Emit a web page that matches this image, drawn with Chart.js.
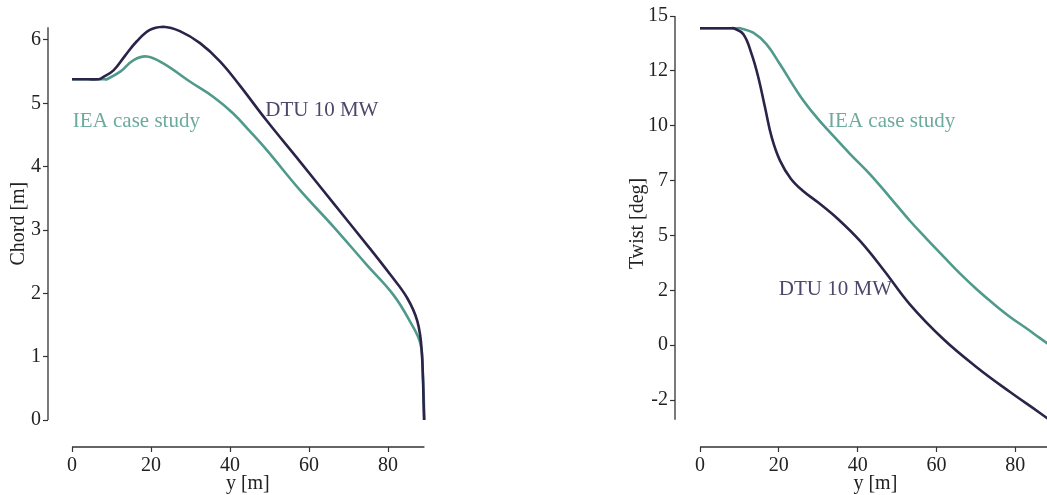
<!DOCTYPE html>
<html>
<head>
<meta charset="utf-8">
<script src="https://cdn.jsdelivr.net/npm/chart.js@4/dist/chart.umd.min.js"></script>
<style>
	html, body { margin: 0; padding: 0; background: #fff; overflow: hidden; }
	body { width: 1047px; height: 495px; position: relative; }
	.panel { position: absolute; top: 0; height: 495px; }
	#chord-box { left: 0; width: 440px; }
	#twist-box { left: 600px; width: 460px; }
</style>
</head>
<body>
<div class="panel" id="chord-box"><canvas id="chord"></canvas></div>
<div class="panel" id="twist-box"><canvas id="twist"></canvas></div>
<script>
// Blade span positions [m] and values
var chordDtuY = [0, 4, 6.8, 7.5, 10.5, 13.4, 16.4, 19.7, 23.1, 27.3, 32.4, 37.5, 42.5, 49.1, 57.7, 66.2, 74.6, 80.5, 84.8, 87.4, 88.5, 89.1];
var chordDtu = [5.38, 5.38, 5.38, 5.4, 5.52, 5.75, 5.98, 6.16, 6.21, 6.14, 5.95, 5.66, 5.28, 4.74, 4.08, 3.42, 2.77, 2.3, 1.93, 1.56, 1.1, 0];

var chordIeaY = [0, 4, 8.2, 8.8, 12.2, 15.5, 18.9, 23.1, 29.9, 35.8, 40.8, 45, 49.3, 57.7, 66.2, 74.6, 81.3, 85.6, 88.2, 88.8, 89.2];
var chordIea = [5.38, 5.38, 5.38, 5.38, 5.5, 5.68, 5.74, 5.63, 5.34, 5.1, 4.84, 4.56, 4.26, 3.63, 3.05, 2.45, 1.98, 1.55, 1.2, 0.7, 0];

var twistDtuY = [0, 5, 7.8, 8.5, 11, 13.1, 14.8, 16.5, 18.2, 20.3, 23, 26, 30, 35, 40.6, 46.5, 53.3, 61.8, 70.2, 78.6, 86, 89.2];
var twistDtu = [14.44, 14.44, 14.44, 14.44, 14.17, 13.26, 12.2, 10.83, 9.47, 8.41, 7.6, 7.05, 6.5, 5.75, 4.75, 3.45, 1.85, 0.27, -1.0, -2.12, -3.05, -3.47];

var twistIeaY = [0, 5, 9.4, 10.2, 13.5, 16.9, 20.3, 25.4, 29.6, 33, 38.1, 43.1, 48.2, 53.3, 57.5, 62, 66, 70.2, 74.4, 78.6, 82.9, 86, 89.2];
var twistIea = [14.44, 14.44, 14.44, 14.44, 14.24, 13.71, 12.8, 11.36, 10.38, 9.7, 8.71, 7.8, 6.74, 5.66, 4.85, 4.0, 3.26, 2.55, 1.9, 1.3, 0.76, 0.36, -0.05];

// Tick values and labels
var spanTicks = [0, 20, 40, 60, 80];
var chordTicks = [0, 1, 2, 3, 4, 5, 6];
var twistTicks = [-2.5, 0, 2.5, 5, 7.5, 10, 12.5, 15];
var twistTickLabels = ['-2', '0', '2', '5', '7', '10', '12', '15'];

var dtuColor = '#2b2348';
var ieaColor = '#4f9a8b';
var dtuText = '#4d4769';
var ieaText = '#6caa9d';
var axisColor = '#333333';
var textColor = '#222222';
var serif = 'Liberation Serif';

var toPoints = function (xs, ys) {
	return xs.map(function (x, i) { return { x: x, y: ys[i] }; });
};

var lineSet = function (label, xs, ys, color) {
	return {
		label: label,
		data: toPoints(xs, ys),
		borderColor: color,
		backgroundColor: color,
		borderWidth: 2.6,
		pointRadius: 0,
		showLine: true,
		tension: 0.4,
		clip: false,
	};
};

// Offset spines over a limited data range, plus axis titles centred on that range
var spinePlugin = {
	id: 'spines',
	afterDraw: function (chart, args, opts) {
		var ctx = chart.ctx;
		var xs = chart.scales.x;
		var ys = chart.scales.y;
		var area = chart.chartArea;
		ctx.save();
		ctx.strokeStyle = axisColor;
		ctx.lineWidth = 1.3;
		ctx.beginPath();
		ctx.moveTo(xs.getPixelForValue(opts.xFrom), area.bottom);
		ctx.lineTo(xs.getPixelForValue(opts.xTo), area.bottom);
		ctx.moveTo(area.left, ys.getPixelForValue(opts.yFrom));
		ctx.lineTo(area.left, ys.getPixelForValue(opts.yTo));
		ctx.stroke();

		ctx.fillStyle = textColor;
		ctx.font = '20px "' + serif + '"';
		ctx.textAlign = 'center';
		ctx.textBaseline = 'middle';
		ctx.fillText(opts.xTitle, xs.getPixelForValue(opts.xMid), chart.height - 11);
		ctx.translate(opts.yTitleX, ys.getPixelForValue(opts.yMid));
		ctx.rotate(-Math.PI / 2);
		ctx.fillText(opts.yTitle, 0, 0);
		ctx.restore();
	},
};

// Curve names written next to the lines
var labelPlugin = {
	id: 'curveLabels',
	afterDatasetsDraw: function (chart, args, opts) {
		var ctx = chart.ctx;
		ctx.save();
		ctx.font = '21px "' + serif + '"';
		ctx.textAlign = 'left';
		ctx.textBaseline = 'middle';
		opts.items.forEach(function (it) {
			ctx.fillStyle = it.color;
			ctx.fillText(it.text, chart.scales.x.getPixelForValue(it.x), chart.scales.y.getPixelForValue(it.y));
		});
		ctx.restore();
	},
};

var axisOpts = function (cfg) {
	return {
		type: 'linear',
		min: cfg.min,
		max: cfg.max,
		border: { display: false },
		grid: { drawOnChartArea: false, drawTicks: true, tickLength: 5, tickWidth: 1.2, tickColor: axisColor },
		afterBuildTicks: function (scale) {
			scale.ticks = cfg.ticks.map(function (v) { return { value: v }; });
		},
		afterFit: cfg.fit,
		ticks: {
			padding: 2,
			color: textColor,
			font: { family: serif, size: 20 },
			callback: cfg.labels ? function (v) { return cfg.labels[cfg.ticks.indexOf(v)]; } : function (v) { return String(v); },
		},
		title: { display: false },
	};
};

var makeChart = function (id, datasets, xCfg, yCfg, pad, spines, labels) {
	var canvas = document.getElementById(id);
	new Chart(canvas.getContext('2d'), {
		type: 'scatter',
		data: { datasets: datasets },
		options: {
			responsive: true,
			maintainAspectRatio: false,
			animation: false,
			events: [],
			layout: { padding: pad },
			plugins: {
				legend: { display: false },
				tooltip: { enabled: false },
				spines: spines,
				curveLabels: { items: labels },
			},
			scales: {
				x: axisOpts(xCfg),
				y: axisOpts(yCfg),
			},
		},
		plugins: [spinePlugin, labelPlugin],
	});
};

// Chord distribution
makeChart('chord',
	[lineSet('DTU 10 MW', chordDtuY, chordDtu, dtuColor), lineSet('IEA case study', chordIeaY, chordIea, ieaColor)],
	{ min: -6.08, max: 90.1, ticks: spanTicks, fit: function (s) { s.height = 48; } },
	{ min: -0.426, max: 6.205, ticks: chordTicks, fit: function (s) { s.width = 48; } },
	{ top: 27, right: 12, left: 0, bottom: 0 },
	{ xFrom: 0, xTo: 89.2, yFrom: 0, yTo: 6.2, xTitle: 'y [m]', xMid: 44.5, yTitle: 'Chord [m]', yMid: 3.1, yTitleX: 19 },
	[{ text: 'DTU 10 MW', x: 48.9, y: 4.88, color: dtuText }, { text: 'IEA case study', x: 0.2, y: 4.72, color: ieaText }]
);

// Twist distribution
makeChart('twist',
	[lineSet('DTU 10 MW', twistDtuY, twistDtu, dtuColor), lineSet('IEA case study', twistIeaY, twistIea, ieaColor)],
	{ min: -6.35, max: 91.1, ticks: spanTicks, fit: function (s) { s.height = 48; } },
	{ min: -4.636, max: 15, ticks: twistTicks, labels: twistTickLabels, fit: function (s) { s.width = 75; } },
	{ top: 16, right: 1, left: 0, bottom: 0 },
	{ xFrom: 0, xTo: 89.2, yFrom: -3.4, yTo: 15, xTitle: 'y [m]', xMid: 44.5, yTitle: 'Twist [deg]', yMid: 5.55, yTitleX: 38 },
	[{ text: 'DTU 10 MW', x: 20, y: 2.55, color: dtuText }, { text: 'IEA case study', x: 32.5, y: 10.2, color: ieaText }]
);
</script>
</body>
</html>
